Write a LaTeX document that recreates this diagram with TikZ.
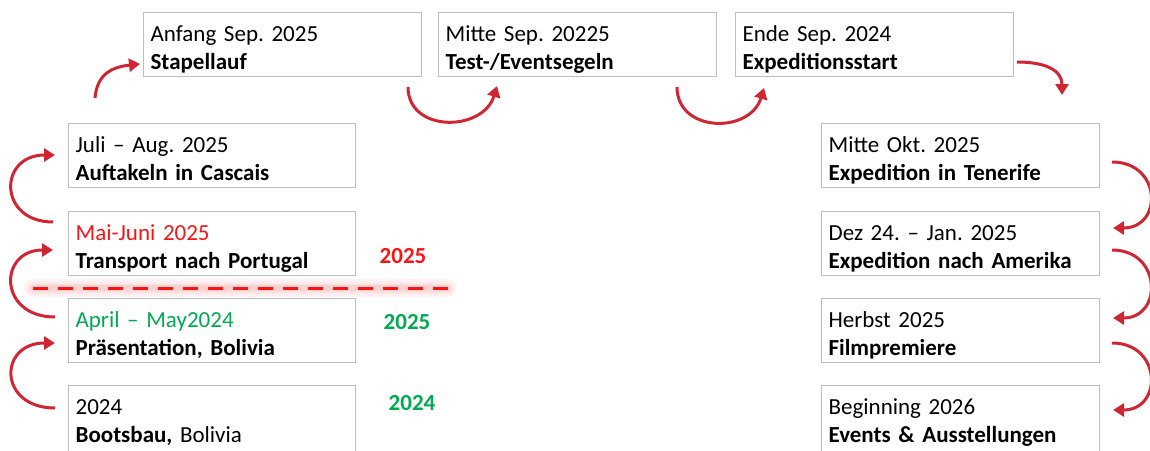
\documentclass[tikz,border=0pt]{standalone}
\usepackage{fontspec}
\setmainfont{Carlito}
\usepackage{tikz}
\usetikzlibrary{shapes,arrows.meta,positioning}
\definecolor{arrred}{RGB}{208,38,52}
\definecolor{txtred}{RGB}{250,20,20}
\definecolor{txtgreen}{RGB}{0,170,80}
\definecolor{boxgray}{RGB}{190,190,190}
\frenchspacing

\begin{document}
\begin{tikzpicture}[x=1pt,y=-1pt]
\tikzset{font={\fontsize{23}{28}\selectfont}}
\tikzset{evbox/.style={draw=boxgray,line width=1.2pt,anchor=north west,align=left,
  text width=264pt,inner xsep=7pt,inner ysep=11pt,text height=18pt,text depth=24pt}}
\tikzset{widebox/.style={evbox,text width=273pt}}
\tikzset{arr/.style={draw=arrred,line width=3pt,-{Triangle[length=11pt,width=13pt]}}}
\tikzset{yr/.style={font={\fontsize{23}{28}\selectfont\bfseries},inner sep=0pt}}
\useasboundingbox (0,0) rectangle (1150,450);

%Top row
\node[evbox] (anf) at (143,12) {Anfang Sep. 2025\\\textbf{Stapellauf}};
\node[evbox] (mitte) at (438,12) {Mitte Sep. 20225\\\textbf{Test-/Eventsegeln}};
\node[evbox] (ende) at (735,12) {Ende Sep. 2024\\\textbf{Expeditionsstart}};

%Left column
\node[widebox] (juli) at (68,123) {Juli -- Aug. 2025\\\textbf{Auftakeln in Cascais}};
\node[widebox] (mai) at (68,211) {\textcolor{txtred}{Mai-Juni 2025}\\\textbf{Transport nach Portugal}};
\node[widebox] (april) at (68,298) {\textcolor{txtgreen}{April -- May2024}\\\textbf{Präsentation, Bolivia}};
\node[widebox,text depth=44pt] (boots) at (68,385) {2024\\\textbf{Bootsbau,} Bolivia};

%Right column
\node[evbox] (okt) at (821,123) {Mitte Okt. 2025\\\textbf{Expedition in Tenerife}};
\node[evbox] (dez) at (821,211) {Dez 24. -- Jan. 2025\\\textbf{Expedition nach Amerika}};
\node[evbox] (herbst) at (821,298) {Herbst 2025\\\textbf{Filmpremiere}};
\node[evbox,text depth=44pt] (begin) at (821,385) {Beginning 2026\\\textbf{Events \& Ausstellungen}};

%Years
\node[yr,text=txtred] (y1) at (403,256) {2025};
\node[yr,text=txtgreen] (y2) at (407,322) {2025};
\node[yr,text=txtgreen] (y3) at (412,403) {2024};

%Year border
\coordinate (dl) at (33,288);
\coordinate (dr) at (448,288);
\foreach \w/\c in {18/5,13/8,9/12,6/18}
\draw[line width=\w pt,red!\c,line cap=round] (dl) -- (dr);
\draw[line width=3pt,txtred,dash pattern=on 15pt off 10pt] (dl) -- (dr);

%Left arcs
\draw[arr] ([shift={(-13,23)}]boots.north west) .. controls +(-57,0) and +(-57,0) .. ([shift={(-13,45)}]april.north west);
\draw[arr] ([shift={(-13,19)}]april.north west) .. controls +(-57,0) and +(-55,0) .. ([shift={(-15,39)}]mai.north west);
\draw[arr] ([shift={(-15,11)}]mai.north west) .. controls +(-55,0) and +(-57,0) .. ([shift={(-13,32)}]juli.north west);
\draw[arr] ([shift={(27,-25)}]juli.north west) .. controls +(2,-24) and +(-28,3) .. ([shift={(-3,52)}]anf.north west);

%Top arcs
\draw[arr] ([shift={(265,75)}]anf.north west) .. controls +(0,46) and +(-14,46) .. ([shift={(59,74)}]mitte.north west);
\draw[arr] ([shift={(239,75)}]mitte.north west) .. controls +(0,46) and +(-14,46) .. ([shift={(29,76)}]ende.north west);
\draw[arr] ([shift={(282,50)}]ende.north west) .. controls +(28,0) and +(0,-25) .. ([shift={(241,-28)}]okt.north west);

%Right arcs
\draw[arr] ([shift={(291,39)}]okt.north west) .. controls +(50,0) and +(50,0) .. ([shift={(292,17)}]dez.north west);
\draw[arr] ([shift={(291,39)}]dez.north west) .. controls +(50,0) and +(50,0) .. ([shift={(292,20)}]herbst.north west);
\draw[arr] ([shift={(291,45)}]herbst.north west) .. controls +(50,0) and +(50,0) .. ([shift={(292,25)}]begin.north west);

\end{tikzpicture}
\end{document}
